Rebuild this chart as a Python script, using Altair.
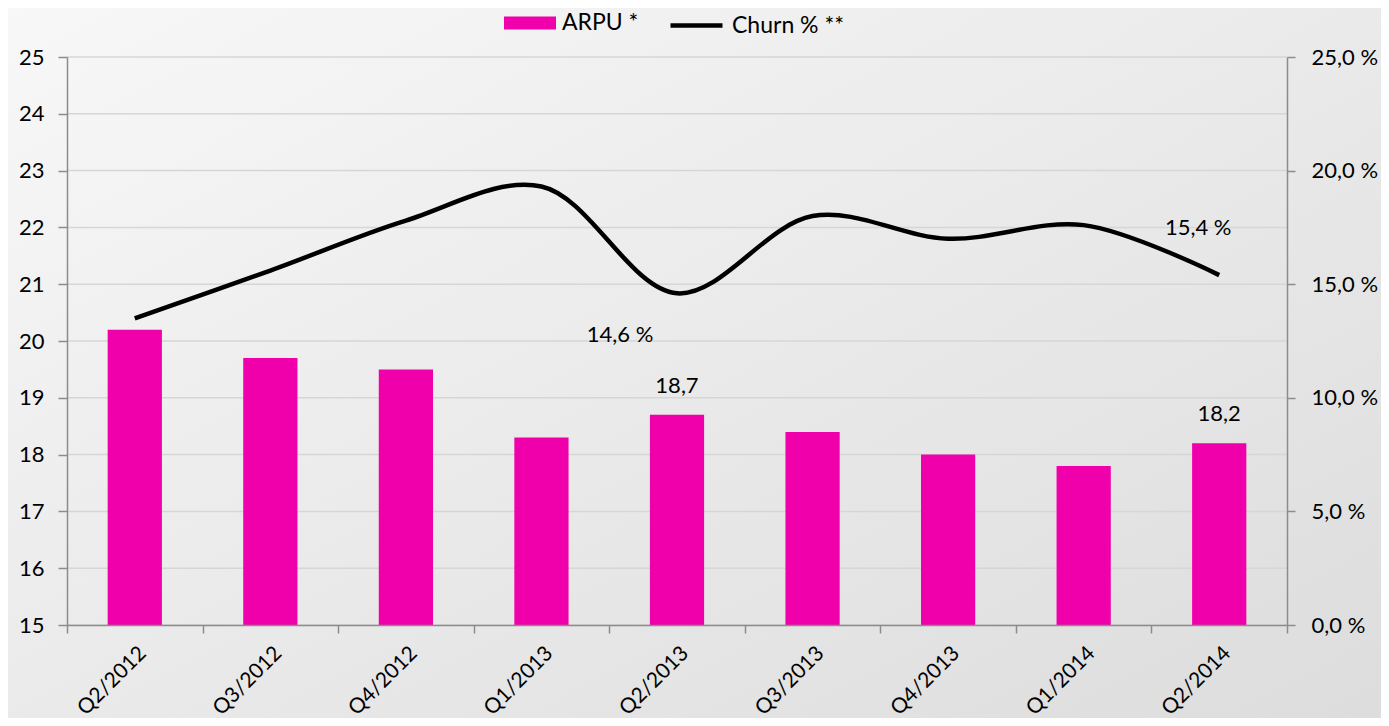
import altair as alt
import pandas as pd

quarters = ["Q2/2012", "Q3/2012", "Q4/2012", "Q1/2013", "Q2/2013",
            "Q3/2013", "Q4/2013", "Q1/2014", "Q2/2014"]
arpu = [20.2, 19.7, 19.5, 18.3, 18.7, 18.4, 18.0, 17.8, 18.2]
churn = [13.5, 15.6, 17.8, 19.3, 14.6, 18.0, 17.0, 17.6, 15.4]
arpu_labelled = ["Q2/2013", "Q2/2014"]
arpu_ticks = list(range(15, 26))
churn_ticks = [0, 5, 10, 15, 20, 25]

df = pd.DataFrame({"quarter": quarters, "arpu": arpu, "churn": churn})
df["arpu_txt"] = df["arpu"].map(lambda v: f"{v:.1f}".replace(".", ","))
df["churn_txt"] = df["churn"].map(lambda v: f"{v:.1f}".replace(".", ",") + " %")
grid_df = pd.DataFrame({"g": arpu_ticks})

FONT = "Lato"
FS = 22
W, H = 1220, 568
MAGENTA = "#F000AA"
AXIS_GRAY = "#8c8c8c"

base = alt.Chart(df)

x_enc = alt.X(
    "quarter:N", sort=quarters, title=None,
    scale=alt.Scale(paddingInner=0, paddingOuter=0),
    axis=alt.Axis(labelAngle=-45, labelFontSize=21, labelFont=FONT, labelColor="#000",
                  tickBand="extent", tickSize=8, tickColor=AXIS_GRAY, tickWidth=1.5,
                  domainColor=AXIS_GRAY, domainWidth=1.5, labelPadding=9, grid=False,
                  zindex=1),
)

bg = alt.Chart(pd.DataFrame({"k": [0]})).mark_rect(
    fill=alt.LinearGradient(
        gradient="linear",
        stops=[alt.GradientStop(color="#f8f8f8", offset=0),
               alt.GradientStop(color="#dcdcdc", offset=1)],
        x1=0, x2=1, y1=0, y2=1),
).encode(x=alt.value(-70), x2=alt.value(W + 110), y=alt.value(-60), y2=alt.value(H + 110))

y_arpu = alt.Y("arpu:Q", title=None,
               scale=alt.Scale(domain=[15, 25], zero=False, nice=False),
               axis=alt.Axis(orient="left", values=arpu_ticks, format="d", labelFontSize=FS,
                             labelFont=FONT, labelColor="#000", tickSize=9, tickColor=AXIS_GRAY,
                             tickWidth=1.5, domainColor=AXIS_GRAY, domainWidth=1.5,
                             labelPadding=14, grid=False, zindex=1))

grid = alt.Chart(grid_df).mark_rule(color="#d6d6d6", strokeWidth=1.5).encode(
    y=alt.Y("g:Q", title=None), x=alt.value(0), x2=alt.value(W),
)

bars = base.mark_bar(width=alt.RelativeBandSize(0.4)).encode(
    x=x_enc,
    y=y_arpu,
    y2=alt.datum(15),
    fill=alt.Fill("s:N", scale=alt.Scale(domain=["ARPU *"], range=[MAGENTA]),
                  legend=alt.Legend(title=None, orient="none", legendX=450, legendY=-47,
                                    padding=0,
                                    symbolType="M-2,-0.5H2V0.5H-2Z", symbolSize=676,
                                    symbolStrokeWidth=0, labelFontSize=23, labelFont=FONT,
                                    labelColor="#000", labelOffset=19)),
).transform_calculate(s="'ARPU *'")

bar_text = base.mark_text(fontSize=FS, font=FONT, color="#000", dy=-29).encode(
    x=alt.X("quarter:N", sort=quarters),
    y=alt.Y("arpu:Q"),
    text="arpu_txt:N",
).transform_filter(alt.FieldOneOfPredicate(field="quarter", oneOf=arpu_labelled))

line = base.mark_line(interpolate="catmull-rom", strokeWidth=4.5).encode(
    x=alt.X("quarter:N", sort=quarters),
    y=alt.Y("churn:Q", title=None,
            scale=alt.Scale(domain=[0, 25], nice=False),
            axis=alt.Axis(orient="right", values=churn_ticks, labelFontSize=FS,
                          labelFont=FONT, labelColor="#000", tickSize=8, tickColor=AXIS_GRAY,
                          tickWidth=1.5, domainColor=AXIS_GRAY, domainWidth=1.5,
                          labelPadding=16, grid=False, zindex=1,
                          labelExpr="replace(format(datum.value, '.1f'), '.', ',') + ' %'")),
    stroke=alt.Stroke("s:N", scale=alt.Scale(domain=["Churn % **"], range=["#000000"]),
                      legend=alt.Legend(title=None, orient="none", legendX=614, legendY=-47,
                                        padding=0,
                                        symbolType="M-2,0H2", symbolSize=676,
                                        symbolStrokeWidth=4.5, labelFontSize=23,
                                        labelFont=FONT, labelColor="#000", labelOffset=20)),
).transform_calculate(s="'Churn % **'")

churn_text1 = base.mark_text(fontSize=FS, font=FONT, color="#000", dx=-57, dy=42).encode(
    x=alt.X("quarter:N", sort=quarters), y=alt.Y("churn:Q"), text="churn_txt:N",
).transform_filter(alt.datum.quarter == "Q2/2013")

churn_text2 = base.mark_text(fontSize=FS, font=FONT, color="#000", dx=-21, dy=-47).encode(
    x=alt.X("quarter:N", sort=quarters), y=alt.Y("churn:Q"), text="churn_txt:N",
).transform_filter(alt.datum.quarter == "Q2/2014")

left = alt.layer(grid, bars, bar_text)
right = alt.layer(line, churn_text1, churn_text2)

chart = alt.layer(bg, left, right).resolve_scale(
    y="independent", fill="independent", stroke="independent"
).properties(
    width=W, height=H,
    autosize=alt.AutoSizeParams(type="none"),
    padding={"left": 59, "top": 49, "right": 94, "bottom": 93},
    background="#eeeeee",
).configure_view(stroke=None)

chart.save("out.html", embed_options={"renderer": "svg", "actions": False})
